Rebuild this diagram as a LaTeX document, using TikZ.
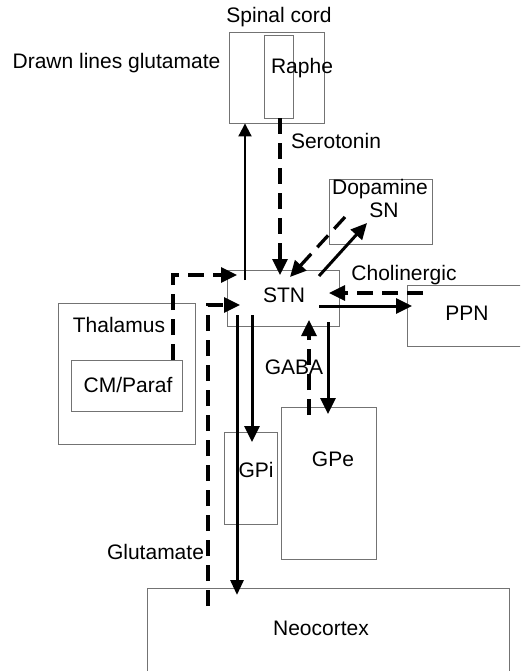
\documentclass[tikz,border=0pt]{standalone}
\usepackage{fontspec}
\setmainfont{Liberation Sans}
\usetikzlibrary{arrows.meta,calc}
\begin{document}
\begin{tikzpicture}[x=1pt,y=-1pt,
  box/.style={draw=black!55, line width=0.9pt, inner sep=0pt, rectangle},
  lbl/.style={inner sep=0pt, font=\fontsize{21}{24}\selectfont, anchor=center},
  sol/.style={line width=3pt, -{Triangle[length=16pt,width=15pt]}},
  thin solid/.style={line width=2pt, -{Triangle[length=13pt,width=13pt]}},
  dsh/.style={line width=3.3pt, dash pattern=on 16pt off 9pt, -{Triangle[length=16pt,width=15pt]}},
]
\clip (0,0) rectangle (520,671);
\fill[white] (0,0) rectangle (520,671);
% boxes
\node[box, minimum width=95pt, minimum height=91pt] (spinal) at (276.5,77.5) {};
\node[box, minimum width=29pt, minimum height=83pt] (raphe) at (278.5,76.5) {};
\node[box, minimum width=103pt, minimum height=65pt] (sn) at (380.5,211.5) {};
\node[box, minimum width=112pt, minimum height=56pt] (stn) at (283,298) {};
\node[box, minimum width=130pt, minimum height=61pt] (ppn) at (472,315.5) {};
\node[box, minimum width=137pt, minimum height=141pt] (thal) at (126.5,373.5) {};
\node[box, minimum width=111pt, minimum height=51pt] (cm) at (126.5,385.5) {};
\node[box, minimum width=53pt, minimum height=92pt] (gpi) at (250.5,478) {};
\node[box, minimum width=95pt, minimum height=152pt] (gpe) at (328.5,483) {};
\node[box, minimum width=362pt, minimum height=112pt] (neo) at (328,644) {};
% labels
\node[lbl] (tspinal) at (279,17) {Spinal cord};
\node[lbl] (traphe) at (302,68) {Raphe};
\node[lbl] (tdrawn) at (116.5,63) {Drawn lines glutamate};
\node[lbl] (tsero) at (336,141) {Serotonin};
\node[lbl] (tdopa) at (380,189) {Dopamine};
\node[lbl] (tsn) at (384,210) {SN};
\node[lbl] (tchol) at (404,275) {Cholinergic};
\node[lbl] (tstn) at (284,295) {STN};
\node[lbl] (tppn) at (467,313) {PPN};
\node[lbl] (tthal) at (119,325) {Thalamus};
\node[lbl] (tcm) at (128,385) {CM/Paraf};
\node[lbl] (tgaba) at (294,367) {GABA};
\node[lbl] (tgpi) at (256,470) {GPi};
\node[lbl] (tgpe) at (333,459) {GPe};
\node[lbl] (tglu) at (155.5,552) {Glutamate};
\node[lbl] (tneo) at (321,628) {Neocortex};
% endpoints
\coordinate (upS) at (245,280);
\coordinate (seroE) at (280,275);
\coordinate (snS) at (345,217);
\coordinate (snE) at (290,277);
\coordinate (toSnS) at (319,276);
\coordinate (toSnE) at (367,223);
\coordinate (ppnS) at (423,293);
\coordinate (ppnE) at (329,293);
\coordinate (toPpnS) at (319,306);
\coordinate (toPpnE) at (412,306);
\coordinate (thS) at (173,360);
\coordinate (thE) at (237,275);
\coordinate (gluS) at (208,606);
\coordinate (gluM) at (208,305);
\coordinate (gluE) at (240,305);
\coordinate (neoS) at (237,315);
\coordinate (neoE) at (237,595);
\coordinate (gpiS) at (252,315);
\coordinate (gpiE) at (252,442);
\coordinate (gpeS) at (328,322);
\coordinate (gpeE) at (328,414);
\coordinate (gabaS) at (309,415);
\coordinate (gabaE) at (309,320);
% connectors
\draw[thin solid] (upS) -- (upS |- spinal.south);
\draw[dsh] (seroE |- raphe.south) -- (seroE);
\draw[dsh] (snS) -- (snE);
\draw[sol] (toSnS) -- (toSnE);
\draw[dsh] (ppnS) -- (ppnE);
\draw[sol] (toPpnS) -- (toPpnE);
\draw[dsh] (thS) |- (thE);
\draw[dsh] (gluS) -- (gluM) -- (gluE);
\draw[sol, -{Triangle[length=15pt,width=13pt]}] (neoS) -- (neoE);
\draw[sol] (gpiS) -- (gpiE);
\draw[sol] (gpeS) -- (gpeE);
\draw[dsh] (gabaS) -- (gabaE);
\end{tikzpicture}
\end{document}
